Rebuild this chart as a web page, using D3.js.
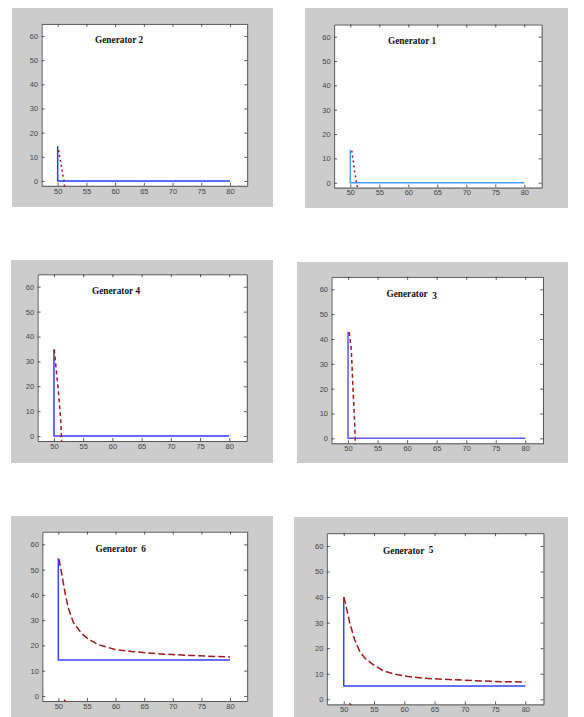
<!DOCTYPE html>
<html>
<head>
<meta charset="utf-8">
<script src="https://cdn.jsdelivr.net/npm/d3@7"></script>
<style>
  html, body { margin: 0; padding: 0; background: #ffffff; }
  svg { display: block; }
  .tick text { font-family: "Liberation Sans", Arial, sans-serif; font-size: 7.5px; fill: #444; }
  .title { font-family: "Liberation Serif", "Times New Roman", serif; font-weight: bold; font-size: 9.3px; fill: #111; white-space: pre; }
</style>
</head>
<body>
<svg id="chart" width="584" height="717"></svg>
<script>
// ---------------- data ----------------
const titles = ["Generator 2", "Generator 1", "Generator 4", "Generator  3", "Generator  6", "Generator  5"];
const xTicks = [50, 55, 60, 65, 70, 75, 80];
const yTicks = [0, 10, 20, 30, 40, 50, 60];
const xDomain = [47.2, 83];
const yDomain = [-2, 65];
const titleAt = [56.5, 57];

// blue solid series [x, y]
const blueGen2 = [[50, 14.5], [50, 0], [80, 0]];
const blueGen1 = [[50, 13.5], [50, 0], [80, 0]];
const blueGen4 = [[50, 34.8], [50, 0], [80, 0]];
const blueGen3 = [[50, 42.9], [50, 0], [80, 0]];
const blueGen6 = [[50, 54.5], [50, 14.2], [80, 14.2]];
const blueGen5 = [[50, 40], [50, 5.2], [80, 5.2]];

// dark red dashed series [x, y]
const redGen2 = [[50.15, 12.8], [50.58, 7], [50.87, 2.8], [51.1, 0.4], [51.2, -2.8]];
const redGen1 = [[50.25, 13.2], [50.46, 9.6], [50.75, 4.5], [51.03, 0.4], [51.27, -2.5]];
const redGen4 = [[50.05, 34.8], [50.34, 27.9], [50.74, 18.5], [51.2, 5], [51.3, -2.3]];
const redGen3 = [[50.2, 42.8], [50.56, 35.6], [50.8, 22], [51.13, 6], [51.24, -2.4]];
const redGen6 = [[50.1, 54.2], [50.6, 48.3], [51.16, 41], [51.7, 35.1], [52.6, 29.2], [54.1, 24.6],
                 [55.2, 22.6], [57, 20.3], [59.9, 18.4], [62.8, 17.6], [67.2, 16.7], [73, 16.05], [80, 15.4]];
const redGen5 = [[50.05, 40], [50.45, 35.7], [51, 29.8], [51.8, 23.3], [52.65, 18.7], [53.5, 16.1],
                 [54.9, 13.5], [56.5, 11.2], [58.45, 9.8], [60.7, 8.9], [63.4, 8.2], [66.7, 7.8],
                 [71.7, 7.3], [76.1, 6.9], [80, 6.8]];
// small dark red stub at the bottom edge (generators 6 and 5)
const stubGen6 = [[51.0, -1.5], [51.3, -2.3]];
const stubGen5 = [[50.95, -1.5], [51.25, -2.3]];

// ---------------- layout (positions & styles) ----------------
const panels = [
  { title: titles[0], blue: blueGen2, red: redGen2, stub: null,
    bg: [12, 8, 273, 207], box: [41.6, 23.9, 247.2, 185.8], blueColor: "#2040ff", dash: "2,3", digitDy: 0 },
  { title: titles[1], blue: blueGen1, red: redGen1, stub: null,
    bg: [305, 8, 568, 208], box: [334.1, 24.5, 541.7, 187.6], blueColor: "#4a9cff", dash: "2,3", digitDy: 0 },
  { title: titles[2], blue: blueGen4, red: redGen4, stub: null,
    bg: [11, 260, 273, 463], box: [37.6, 274.3, 246.8, 441], blueColor: "#3a3aff", dash: "4,3", digitDy: 0 },
  { title: titles[3], blue: blueGen3, red: redGen3, stub: null,
    bg: [297, 262, 568, 463], box: [331.5, 276.9, 543, 443.3], blueColor: "#5858ff", dash: "4,3", digitDy: 2 },
  { title: titles[4], blue: blueGen6, red: redGen6, stub: stubGen6,
    bg: [11, 516, 273, 717], box: [42.3, 531.7, 247.2, 701], blueColor: "#3344ff", dash: "7,3", digitDy: 0 },
  { title: titles[5], blue: blueGen5, red: redGen5, stub: stubGen5,
    bg: [294, 517, 568, 717], box: [326.8, 533.2, 543.5, 704.4], blueColor: "#3344ff", dash: "7,3", digitDy: -1 }
];

const redColor = "#9b1c1c";
const svg = d3.select("#chart");

panels.forEach(p => {
  const [gx0, gy0, gx1, gy1] = p.bg;
  svg.append("rect")
    .attr("x", gx0).attr("y", gy0)
    .attr("width", gx1 - gx0).attr("height", gy1 - gy0)
    .attr("fill", "#cccccc");

  const [bx0, by0, bx1, by1] = p.box;
  svg.append("rect")
    .attr("x", bx0).attr("y", by0)
    .attr("width", bx1 - bx0).attr("height", by1 - by0)
    .attr("fill", "#ffffff");

  const x = d3.scaleLinear().domain(xDomain).range([bx0, bx1]);
  const y = d3.scaleLinear().domain(yDomain).range([by1, by0]);

  const styleAxis = g => {
    g.select(".domain").attr("stroke", "#555").attr("stroke-width", 1);
    g.selectAll(".tick line").attr("stroke", "#333").attr("stroke-width", 0.8);
  };

  svg.append("g").attr("transform", `translate(0,${by1})`)
    .call(d3.axisBottom(x).tickValues(xTicks).tickSizeInner(-3).tickSizeOuter(0).tickPadding(2.5))
    .call(styleAxis);
  svg.append("g").attr("transform", `translate(0,${by0})`)
    .call(d3.axisTop(x).tickValues(xTicks).tickSizeInner(-3).tickSizeOuter(0).tickFormat(""))
    .call(styleAxis);
  svg.append("g").attr("transform", `translate(${bx0},0)`)
    .call(d3.axisLeft(y).tickValues(yTicks).tickSizeInner(-3).tickSizeOuter(0).tickPadding(3.5))
    .call(styleAxis);
  svg.append("g").attr("transform", `translate(${bx1},0)`)
    .call(d3.axisRight(y).tickValues(yTicks).tickSizeInner(-3).tickSizeOuter(0).tickFormat(""))
    .call(styleAxis);

  const line = d3.line().x(d => x(d[0])).y(d => y(d[1]));

  svg.append("path").datum(p.blue)
    .attr("d", line)
    .attr("fill", "none")
    .attr("stroke", p.blueColor)
    .attr("stroke-width", 1.5);

  svg.append("path").datum(p.red)
    .attr("d", line)
    .attr("fill", "none")
    .attr("stroke", redColor)
    .attr("stroke-width", 1.5)
    .attr("stroke-dasharray", p.dash);

  if (p.stub) {
    svg.append("path").datum(p.stub)
      .attr("d", line)
      .attr("fill", "none")
      .attr("stroke", redColor)
      .attr("stroke-width", 1.3);
  }

  const label = p.title;
  const head = label.slice(0, -1);
  const digit = label.slice(-1);
  const t = svg.append("text").attr("class", "title")
    .attr("x", x(titleAt[0])).attr("y", y(titleAt[1]));
  t.append("tspan").text(head);
  t.append("tspan").attr("dy", p.digitDy).text(digit);
});
</script>
</body>
</html>
